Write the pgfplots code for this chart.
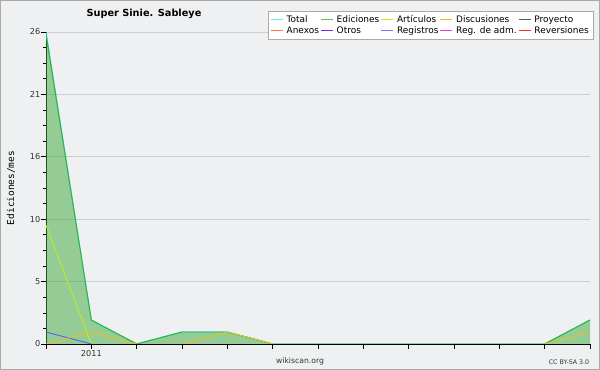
\documentclass[border=0pt]{standalone}
\usepackage{pgfplots}
\pgfplotsset{compat=1.18}
\usepackage{fontspec}
\setmainfont{DejaVu Sans}
\setmonofont{DejaVu Sans Mono}
\definecolor{bg}{RGB}{239,240,241}
\definecolor{frame}{RGB}{170,170,170}
\definecolor{gridc}{RGB}{205,205,205}
\definecolor{cTotal}{RGB}{40,220,220}
\definecolor{cEdic}{RGB}{50,180,60}
\definecolor{cFill}{RGB}{61,170,59}
\definecolor{cArt}{RGB}{190,240,20}
\definecolor{cDisc}{RGB}{245,190,20}
\definecolor{cProy}{RGB}{90,90,90}
\definecolor{cAnex}{RGB}{255,120,60}
\definecolor{cOtros}{RGB}{130,40,230}
\definecolor{cReg}{RGB}{70,90,255}
\definecolor{cAdm}{RGB}{230,60,240}
\definecolor{cRev}{RGB}{255,50,50}
\definecolor{lTotal}{RGB}{120,225,225}
\definecolor{lEdic}{RGB}{90,190,90}
\definecolor{lReg}{RGB}{110,125,255}
\begin{document}
\begin{tikzpicture}
\fill[bg] (-46bp,-26bp) rectangle (554bp,344bp);
\begin{axis}[
  scale only axis, width=544bp, height=312bp,
  xmin=0, xmax=12, ymin=0, ymax=26,
  axis x line=bottom, axis y line=left,
  axis line style={-, black, line width=0.7pt},
  xtick={0,1,2,3,4,5,6,7,8,9,10,11,12},
  xticklabels={,2011,,,,,,,,,,,},
  ytick={0,5.2,10.4,15.6,20.8,26},
  yticklabels={0,5,10,16,21,26},
  minor y tick num=3,
  tick align=outside,
  major tick length=5bp, minor tick length=3.5bp,
  tick style={black, line width=0.6pt},
  ymajorgrids, grid style={gridc, line width=0.6pt},
  ticklabel style={font=\fontsize{8.2}{9}\selectfont, text=black!80},
  yticklabel style={inner xsep=0.5bp},
  xticklabel style={inner ysep=1bp},
  /pgf/number format/assume math mode=true,
  legend columns=5,
  legend cell align=left,
  legend style={at={(1.0055,1.0673)}, anchor=north east, draw=frame, fill=white,
    font=\fontsize{9}{10}\selectfont, inner xsep=2bp, inner ysep=2bp, row sep=-1.2bp,
    /tikz/every even column/.append style={column sep=-0.5bp}},
  legend image code/.code={\draw[#1, line width=1.1bp] (0bp,0bp) -- (12bp,0bp); \path (13.5bp,0bp);},
]
\addplot[draw=none, fill=cFill, fill opacity=0.5, forget plot] coordinates {
 (0,25.8) (1,2) (2,0) (3,1) (4,1) (5,0) (6,0) (7,0) (8,0) (9,0) (10,0) (11,0) (12,2)} \closedcycle;
\addplot[cTotal, line width=1pt, forget plot] coordinates {
 (0,26) (1,2) (2,0) (3,1) (4,1) (5,0) (6,0) (7,0) (8,0) (9,0) (10,0) (11,0) (12,2)};
\addplot[cArt, line width=0.8pt, forget plot] coordinates {(0,9.9) (1,0)};
\addplot[cReg, line width=0.8pt, forget plot] coordinates {(0,1) (1,0)};
\addplot[cEdic, line width=1pt, forget plot] coordinates {
 (0,25.8) (1,2) (2,0) (3,1) (4,1) (5,0) (6,0) (7,0) (8,0) (9,0) (10,0) (11,0) (12,2)};
\addplot[cDisc, line width=0.8pt, forget plot] coordinates {(0,0) (1,1) (2,0)};
\addplot[cDisc, line width=0.8pt, forget plot] coordinates {(3,0) (4,1) (5,0)};
\addplot[cDisc, line width=0.8pt, forget plot] coordinates {(11,0) (12,1)};
\addlegendimage{lTotal}\addlegendentry{Total}
\addlegendimage{lEdic}\addlegendentry{Ediciones}
\addlegendimage{cArt}\addlegendentry{Artículos}
\addlegendimage{cDisc}\addlegendentry{Discusiones}
\addlegendimage{cProy}\addlegendentry{Proyecto}
\addlegendimage{cAnex}\addlegendentry{Anexos}
\addlegendimage{cOtros}\addlegendentry{Otros}
\addlegendimage{lReg}\addlegendentry{Registros}
\addlegendimage{cAdm}\addlegendentry{Reg. de adm.}
\addlegendimage{cRev}\addlegendentry{Reversiones}
\end{axis}
\node[font=\bfseries\fontsize{9.8}{11}\selectfont] at (98bp,330bp) {Super Sinie. Sableye};
\node[font=\ttfamily\fontsize{9.5}{11}\selectfont, rotate=90] at (-35bp,156bp) {Ediciones/mes};
\node[font=\fontsize{7.7}{9}\selectfont, text=black!80] at (254bp,-17bp) {wikiscan.org};
\node[font=\fontsize{6.3}{8}\selectfont, text=black!80] at (523bp,-18bp) {CC BY-SA 3.0};
\draw[frame, line width=1.5bp] (-45.25bp,-25.25bp) rectangle (553.25bp,343.25bp);
\pgfresetboundingbox
\useasboundingbox (-46bp,-26bp) rectangle (554bp,344bp);
\end{tikzpicture}
\end{document}
